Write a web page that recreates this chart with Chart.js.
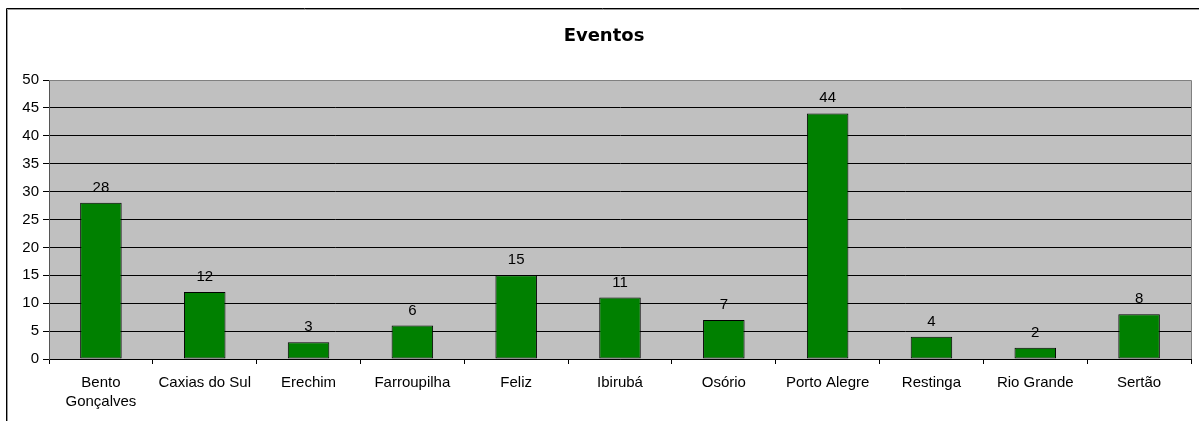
<!DOCTYPE html>
<html>
<head>
<meta charset="utf-8">
<script src="https://cdn.jsdelivr.net/npm/chart.js@4"></script>
<style>
  body { margin: 0; background: #fff; }
  canvas { display: block; }
</style>
</head>
<body>
<canvas id="chart" width="1199" height="421"></canvas>
<script>
// ================= DATA =================
const cities = [
  ["Bento", "Gonçalves"], "Caxias do Sul", "Erechim", "Farroupilha", "Feliz",
  "Ibirubá", "Osório", "Porto Alegre", "Restinga", "Rio Grande", "Sertão"
];
const eventos = [28, 12, 3, 6, 15, 11, 7, 44, 4, 2, 8];
const yMax = 50;
const yStep = 5;

const FONT = "'Liberation Sans', Arial, sans-serif";

// fundo cinza + bordas (estilo Excel)
const frame = {
  id: "frame",
  beforeDraw(c) {
    const { ctx, chartArea: a } = c;
    ctx.save();
    ctx.fillStyle = "#c0c0c0";
    ctx.fillRect(a.left, a.top, a.right - a.left, a.bottom - a.top);
    // moldura externa (só topo e esquerda aparecem)
    ctx.strokeStyle = "#000";
    ctx.lineWidth = 1;
    ctx.beginPath();
    ctx.moveTo(6.5, c.height);
    ctx.lineTo(6.5, 8.5);
    ctx.lineTo(c.width, 8.5);
    ctx.stroke();
    ctx.strokeStyle = "#999";
    ctx.beginPath();
    ctx.moveTo(7.5, c.height);
    ctx.lineTo(7.5, 9.5);
    ctx.lineTo(c.width, 9.5);
    ctx.stroke();
    ctx.restore();
  },
  afterDraw(c) {
    const { ctx, chartArea: a } = c;
    ctx.save();
    ctx.strokeStyle = "#808080";
    ctx.lineWidth = 1;
    ctx.beginPath();
    ctx.moveTo(a.left, a.top + 0.5);
    ctx.lineTo(a.right + 0.5, a.top + 0.5);
    ctx.lineTo(a.right + 0.5, a.bottom);
    ctx.stroke();
    ctx.restore();
  }
};

// rótulos de valor acima das barras
const valueLabels = {
  id: "valueLabels",
  afterDatasetsDraw(c) {
    const { ctx } = c;
    const meta = c.getDatasetMeta(0);
    ctx.save();
    ctx.font = "15px " + FONT;
    ctx.fillStyle = "#000";
    ctx.textAlign = "center";
    ctx.textBaseline = "alphabetic";
    meta.data.forEach((bar, i) => {
      ctx.fillText(String(eventos[i]), bar.x, bar.y - 11);
    });
    ctx.restore();
  }
};

new Chart(document.getElementById("chart"), {
  type: "bar",
  data: {
    labels: cities,
    datasets: [{
      label: "Eventos",
      data: eventos,
      backgroundColor: "#008000",
      borderColor: "#000",
      borderWidth: 1,
      borderSkipped: false,
      categoryPercentage: 1,
      barPercentage: 0.4
    }]
  },
  options: {
    responsive: false,
    animation: false,
    layout: { padding: { left: 17, right: 8, top: 0, bottom: 0 } },
    plugins: {
      legend: { display: false },
      tooltip: { enabled: false },
      title: {
        display: true,
        text: "Eventos",
        color: "#000",
        font: { family: "'DejaVu Sans', Verdana, sans-serif", size: 18, weight: "bold", lineHeight: 1 },
        padding: { top: 27, bottom: 35 }
      }
    },
    scales: {
      x: {
        afterFit(s) { s.height = 62; },
        grid: {
          offset: true,
          drawOnChartArea: false,
          color: "#000",
          tickLength: 5
        },
        border: { color: "#000", width: 1 },
        ticks: {
          color: "#000",
          padding: 9,
          maxRotation: 0,
          autoSkip: false,
          font: { family: FONT, size: 15, lineHeight: 1.27 }
        }
      },
      y: {
        min: 0,
        max: yMax,
        afterFit(s) { s.width = 32; },
        grid: {
          color: ctx => (ctx.tick && ctx.tick.value === yMax ? "#808080" : "#000"),
          tickColor: "#000",
          tickLength: 6
        },
        border: { color: "#555", width: 1 },
        ticks: {
          stepSize: yStep,
          color: "#000",
          padding: 4,
          font: { family: FONT, size: 15 }
        }
      }
    }
  },
  plugins: [frame, valueLabels]
});
</script>
</body>
</html>
